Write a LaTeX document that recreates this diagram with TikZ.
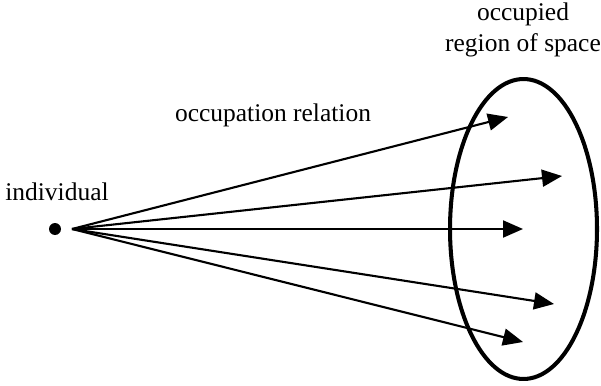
\documentclass[tikz,border=0pt]{standalone}
\usepackage{fontspec}
\setmainfont{Liberation Serif}
\usetikzlibrary{arrows.meta, positioning, calc, shapes.geometric}

\begin{document}
\begin{tikzpicture}[
    x=0.02cm, y=-0.02cm,
    caption/.style={font=\fontsize{14.5}{17.6}\selectfont, align=center},
    arrow/.style={-{Triangle[length=0.4cm, width=0.34cm]}, line width=1.2pt},
]
    \useasboundingbox (0,0) rectangle (601,385);

    % Individual
    \node[circle, fill, inner sep=0pt, minimum size=0.24cm] (indiv) at (55,229) {};
    \node[caption] (indivlabel) at (57,192) {individual};
    \coordinate (hub) at (72,229);

    % Occupied region
    \node[ellipse, draw, line width=2.3pt, inner sep=0pt, minimum width=2.94cm, minimum height=6cm] (region) at (523.5,229) {};
    \node[caption] (regionlabel) at (523,30) {occupied\\region of space};

    % Relation label
    \node[caption] (rellabel) at (273,115) {occupation relation};

    % Arrow targets
    \coordinate (t1) at (508,117);
    \coordinate (t2) at (562,176);
    \coordinate (t3) at (523,229);
    \coordinate (t4) at (554,304);
    \coordinate (t5) at (523,342);

    \foreach \t in {1,...,5}
        \draw[arrow] (hub) -- (t\t);

\end{tikzpicture}
\end{document}
